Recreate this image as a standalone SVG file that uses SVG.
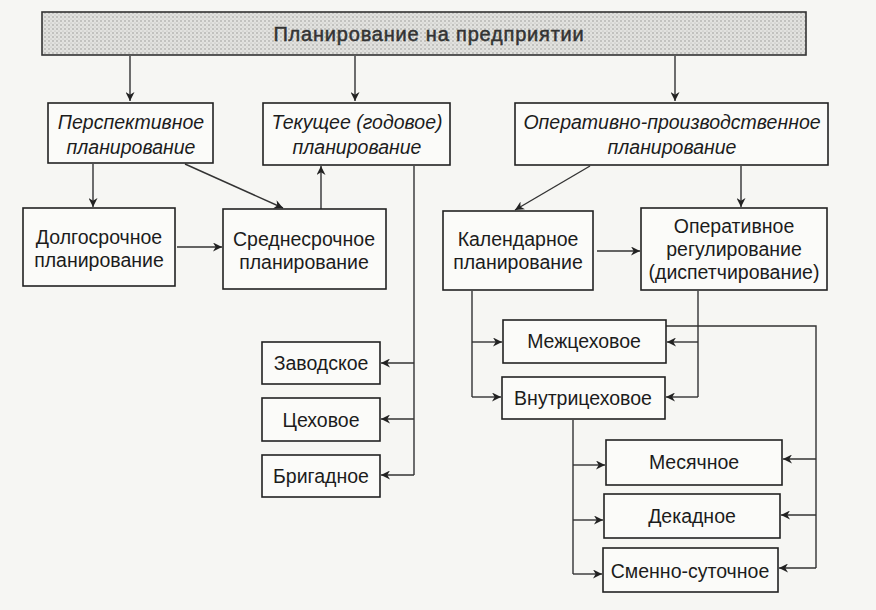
<svg xmlns="http://www.w3.org/2000/svg" width="876" height="610" viewBox="0 0 876 610">
<style>
.box{fill:#fbfbf9;stroke:#222;stroke-width:1.6}
.t{font-family:"Liberation Sans",Arial,sans-serif;font-size:19.5px;fill:#1c1c1c;text-anchor:middle}
.i{font-style:italic}
.title{font-size:20px;letter-spacing:0.8px;stroke:#333;stroke-width:0.5;fill:#333}
.c{fill:none;stroke:#333;stroke-width:1.4}
</style>
<defs>
<pattern id="dots" width="4" height="4" patternUnits="userSpaceOnUse">
<rect width="4" height="4" fill="#e2e2df"/>
<circle cx="1" cy="1" r="0.8" fill="#9a9a96"/>
<circle cx="3" cy="3" r="0.6" fill="#b4b4b0"/>
</pattern>
<marker id="a" viewBox="0 0 10 10" refX="10" refY="5" markerWidth="9" markerHeight="9" markerUnits="userSpaceOnUse" orient="auto">
<path d="M0,0 L10,5 L0,10 L3,5 Z" fill="#222"/>
</marker>
</defs>
<rect width="876" height="610" fill="#f6f6f3"/>

<g id="connectors">
<path class="c" marker-end="url(#a)" d="M130,56 V101"/>
<path class="c" marker-end="url(#a)" d="M355,56 V101"/>
<path class="c" marker-end="url(#a)" d="M675,56 V101"/>
<path class="c" marker-end="url(#a)" d="M93,164 V207"/>
<path class="c" marker-end="url(#a)" d="M185,164 L283,208"/>
<path class="c" marker-end="url(#a)" d="M321,209 V166"/>
<path class="c" marker-end="url(#a)" d="M177,247 H222"/>
<path class="c" d="M414,166 V475"/>
<path class="c" marker-end="url(#a)" d="M414,363 H381"/>
<path class="c" marker-end="url(#a)" d="M414,419 H381"/>
<path class="c" marker-end="url(#a)" d="M414,475 H381"/>
<path class="c" marker-end="url(#a)" d="M590,166 L515,210"/>
<path class="c" marker-end="url(#a)" d="M741,166 V207"/>
<path class="c" marker-end="url(#a)" d="M597,251 H640"/>
<path class="c" d="M472,291 V397"/>
<path class="c" marker-end="url(#a)" d="M472,342 H502"/>
<path class="c" marker-end="url(#a)" d="M472,397 H501"/>
<path class="c" d="M698,291 V397"/>
<path class="c" marker-end="url(#a)" d="M698,342 H667"/>
<path class="c" marker-end="url(#a)" d="M698,397 H666"/>
<path class="c" d="M666,326 H816 V568"/>
<path class="c" marker-end="url(#a)" d="M816,459 H783"/>
<path class="c" marker-end="url(#a)" d="M816,515 H781"/>
<path class="c" marker-end="url(#a)" d="M816,568 H779"/>
<path class="c" d="M573,420 V574"/>
<path class="c" marker-end="url(#a)" d="M573,465 H605"/>
<path class="c" marker-end="url(#a)" d="M573,520 H603"/>
<path class="c" marker-end="url(#a)" d="M573,574 H602"/>
</g>

<g id="root">
<rect x="42" y="12" width="764" height="43" fill="url(#dots)" stroke="#333" stroke-width="1.6"/>
<text class="t title" x="429" y="41">Планирование на предприятии</text>
</g>
<g id="perspective">
<rect class="box" x="48" y="103" width="165" height="60"/>
<text class="t i" x="131" y="129">Перспективное</text>
<text class="t i" x="131" y="154">планирование</text>
</g>
<g id="current">
<rect class="box" x="263" y="103" width="187" height="62"/>
<text class="t i" x="357" y="129">Текущее (годовое)</text>
<text class="t i" x="357" y="154">планирование</text>
</g>
<g id="operational">
<rect class="box" x="515" y="103" width="313" height="62"/>
<text class="t i" x="672" y="129">Оперативно-производственное</text>
<text class="t i" x="672" y="154">планирование</text>
</g>
<g id="longterm">
<rect class="box" x="23" y="208" width="152" height="78"/>
<text class="t" x="99" y="244">Долгосрочное</text>
<text class="t" x="99" y="267">планирование</text>
</g>
<g id="midterm">
<rect class="box" x="223" y="209" width="163" height="80"/>
<text class="t" x="304" y="246">Среднесрочное</text>
<text class="t" x="304" y="269">планирование</text>
</g>
<g id="factory">
<rect class="box" x="262" y="342" width="118" height="42"/>
<text class="t" x="321" y="370">Заводское</text>
</g>
<g id="shop">
<rect class="box" x="262" y="398" width="118" height="43"/>
<text class="t" x="321" y="427">Цеховое</text>
</g>
<g id="brigade">
<rect class="box" x="262" y="455" width="118" height="42"/>
<text class="t" x="321" y="483">Бригадное</text>
</g>
<g id="calendar">
<rect class="box" x="443" y="211" width="150" height="79"/>
<text class="t" x="518" y="246">Календарное</text>
<text class="t" x="518" y="269">планирование</text>
</g>
<g id="dispatch">
<rect class="box" x="641" y="208" width="186" height="82"/>
<text class="t" x="734" y="233">Оперативное</text>
<text class="t" x="734" y="256">регулирование</text>
<text class="t" x="734" y="279">(диспетчирование)</text>
</g>
<g id="intershop">
<rect class="box" x="503" y="320" width="163" height="43"/>
<text class="t" x="584" y="348">Межцеховое</text>
</g>
<g id="intrashop">
<rect class="box" x="502" y="377" width="163" height="42"/>
<text class="t" x="583" y="405">Внутрицеховое</text>
</g>
<g id="monthly">
<rect class="box" x="606" y="440" width="176" height="45"/>
<text class="t" x="694" y="469">Месячное</text>
</g>
<g id="decade">
<rect class="box" x="604" y="494" width="176" height="44"/>
<text class="t" x="692" y="523">Декадное</text>
</g>
<g id="shift">
<rect class="box" x="603" y="548" width="175" height="44"/>
<text class="t" x="690" y="578">Сменно-суточное</text>
</g>
</svg>
